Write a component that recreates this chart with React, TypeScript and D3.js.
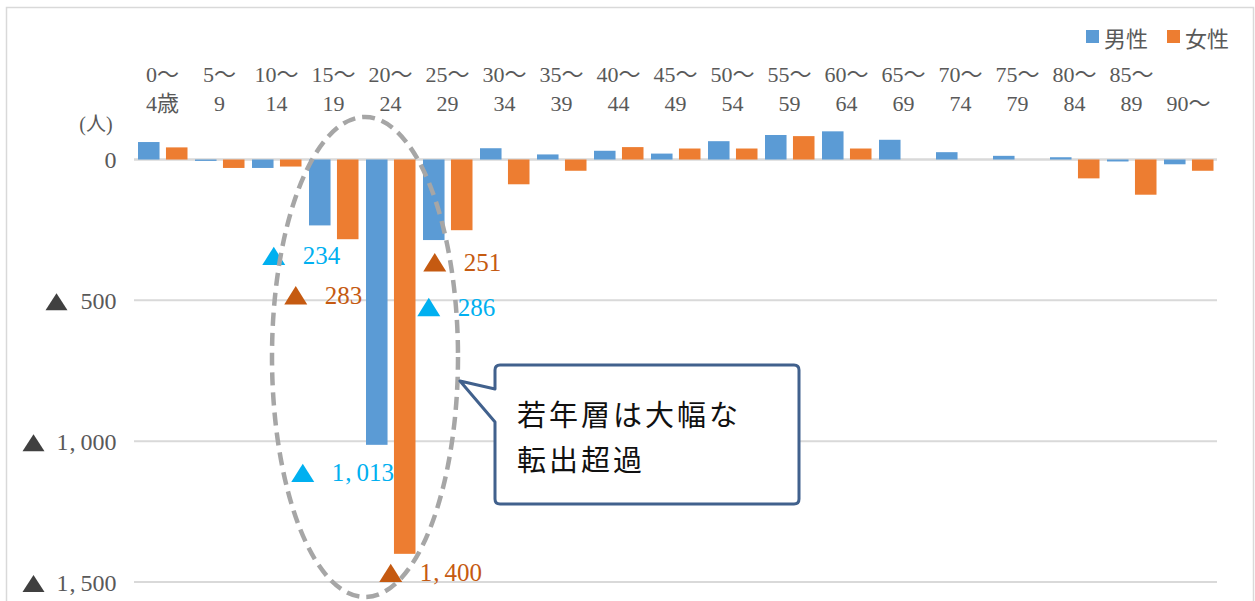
import React, { useEffect, useRef } from "react";
import * as d3 from "d3";

// ---- data ----
const catTop = ["0～", "5～", "10～", "15～", "20～", "25～", "30～", "35～", "40～", "45～", "50～", "55～", "60～", "65～", "70～", "75～", "80～", "85～", ""];
const catBottom = ["4歳", "9", "14", "19", "24", "29", "34", "39", "44", "49", "54", "59", "64", "69", "74", "79", "84", "89", "90～"];
const categories = catBottom.map((b, i) => catTop[i] + b);
const seriesNames = ["男性", "女性"];
const maleValues = [62, -5, -30, -234, -1013, -286, 40, 18, 31, 21, 65, 87, 100, 70, 26, 13, 8, -7, -17];
const femaleValues = [43, -30, -25, -283, -1400, -251, -88, -40, 44, 39, 39, 83, 39, 0, 0, 0, -67, -125, -40];
const yTicks = [0, -500, -1000, -1500];
const unitLabel = "(人)";
const highlighted = [
  { cat: "15～19", series: "男性" },
  { cat: "15～19", series: "女性" },
  { cat: "20～24", series: "男性" },
  { cat: "20～24", series: "女性" },
  { cat: "25～29", series: "男性" },
  { cat: "25～29", series: "女性" },
];
const calloutLines = ["若年層は大幅な", "転出超過"];

// ---- layout / style ----
const W = 1255;
const H = 601;
const plotLeft = 134;
const plotRight = 1217;
const colors: Record<string, string> = { 男性: "#5B9BD5", 女性: "#ED7D31" };
const labelColors: Record<string, string> = { 男性: "#00B0F0", 女性: "#C55A11" };
// offsets of each highlighted label relative to the bar's centre / end
const labelLayout = [
  { dx: -46, dy: 30.5 },
  { dx: -52, dy: 56 },
  { dx: -74, dy: 28 },
  { dx: -14, dy: 19 },
  { dx: -5, dy: 67 },
  { dx: -27, dy: 32 },
];
const SERIF = "'Liberation Serif', 'Noto Sans CJK JP', serif";
const SANS = "'Noto Sans CJK JP', 'Noto Sans', sans-serif";

// write a number string into a text element, widening the comma like a half-width Mincho comma
function writeNumber(t: d3.Selection<SVGTextElement, unknown, null, undefined>, s: string) {
  const parts = s.split(",");
  parts.forEach((p, i) => {
    if (i > 0) t.append("tspan").attr("dx", 1).attr("letter-spacing", 5).text(",");
    t.append("tspan").text(p);
  });
}

export default function App() {
  const ref = useRef<SVGSVGElement | null>(null);

  useEffect(() => {
    const svg = d3.select(ref.current);
    svg.selectAll("*").remove();

    const x = d3.scaleBand<string>().domain(categories).range([plotLeft, plotRight]).padding(0);
    const xs = d3
      .scaleBand<string>()
      .domain(seriesNames)
      .range([4, x.bandwidth() - 3.5])
      .paddingInner(0.23)
      .paddingOuter(0);
    const y = d3.scaleLinear().domain([0, -1500]).range([159.5, 582]);

    // outer border
    svg
      .append("rect")
      .attr("x", 6.5)
      .attr("y", 7.5)
      .attr("width", 1247)
      .attr("height", 700)
      .attr("fill", "#fff")
      .attr("stroke", "#D9D9D9")
      .attr("stroke-width", 1.5);

    // gridlines
    svg
      .append("g")
      .selectAll("line")
      .data(yTicks)
      .join("line")
      .attr("x1", plotLeft)
      .attr("x2", plotRight)
      .attr("y1", (d) => y(d))
      .attr("y2", (d) => y(d))
      .attr("stroke", "#D9D9D9")
      .attr("stroke-width", (d) => (d === 0 ? 2.5 : 2));

    // y-axis labels
    const yl = svg.append("g");
    yTicks.forEach((v) => {
      const gy = y(v);
      const t = yl
        .append("text")
        .attr("x", 116.5)
        .attr("y", gy + 8.5)
        .attr("text-anchor", "end")
        .attr("font-family", SERIF)
        .attr("font-size", 24)
        .attr("fill", "#595959");
      writeNumber(t as any, v === 0 ? "0" : d3.format(",")(-v));
      if (v !== 0) {
        const len = (t.node() as SVGTextElement).getComputedTextLength();
        const right = 116.5 - len - 13;
        const cy = gy + 1.5;
        yl.append("path")
          .attr("d", `M${right - 22},${cy + 8.5}L${right},${cy + 8.5}L${right - 11},${cy - 8.5}Z`)
          .attr("fill", "#404040");
      }
    });

    // unit label
    svg
      .append("text")
      .attr("x", 96)
      .attr("y", 124)
      .attr("text-anchor", "middle")
      .attr("dominant-baseline", "central")
      .attr("font-family", SERIF)
      .attr("font-size", 20)
      .attr("fill", "#595959")
      .text(unitLabel);

    // category labels
    const cl = svg.append("g").attr("font-family", SERIF).attr("font-size", 22).attr("fill", "#595959").attr("text-anchor", "middle");
    categories.forEach((c, i) => {
      const cx = (x(c) as number) + x.bandwidth() / 2;
      if (catTop[i]) cl.append("text").attr("x", cx).attr("y", 81.5).text(catTop[i]);
      cl.append("text").attr("x", cx).attr("y", 111).text(catBottom[i]);
    });

    // bars
    const rows = categories.map((c, i) => ({ cat: c, 男性: maleValues[i], 女性: femaleValues[i] }));
    const bars = svg.append("g");
    seriesNames.forEach((s) => {
      bars
        .append("g")
        .selectAll("rect")
        .data(rows.filter((r) => (r as any)[s] !== 0))
        .join("rect")
        .attr("x", (r) => (x(r.cat) as number) + (xs(s) as number))
        .attr("width", xs.bandwidth())
        .attr("y", (r) => Math.min(y((r as any)[s]), y(0)))
        .attr("height", (r) => Math.abs(y((r as any)[s]) - y(0)))
        .attr("fill", colors[s]);
    });

    // highlighted value labels
    const lg = svg.append("g");
    highlighted.forEach((h, k) => {
      const i = categories.indexOf(h.cat);
      const v = h.series === "男性" ? maleValues[i] : femaleValues[i];
      const bx = (x(h.cat) as number) + (xs(h.series) as number) + xs.bandwidth() / 2;
      const by = y(v);
      const tx = bx + labelLayout[k].dx;
      const ty = by + labelLayout[k].dy;
      lg.append("path")
        .attr("d", `M${tx - 11.5},${ty + 9.2}L${tx + 11.5},${ty + 9.2}L${tx},${ty - 9.2}Z`)
        .attr("fill", labelColors[h.series]);
      const t = lg
        .append("text")
        .attr("x", tx + 29)
        .attr("y", ty + 8.5)
        .attr("font-family", SERIF)
        .attr("font-size", 25)
        .attr("fill", labelColors[h.series]);
      writeNumber(t as any, d3.format(",")(Math.abs(v)));
    });

    // dashed ellipse around the young-age groups
    svg
      .append("ellipse")
      .attr("cx", (x("20～24") as number) + 3)
      .attr("cy", 357)
      .attr("rx", 93)
      .attr("ry", 240)
      .attr("fill", "none")
      .attr("stroke", "#A6A6A6")
      .attr("stroke-width", 4.5)
      .attr("stroke-dasharray", "13 7");

    // callout
    const bx0 = 495, bx1 = 799, by0 = 365, by1 = 504, r = 5;
    const tipX = 460, tipY = 381;
    const p = d3.path();
    p.moveTo(bx0 + r, by0);
    p.lineTo(bx1 - r, by0);
    p.quadraticCurveTo(bx1, by0, bx1, by0 + r);
    p.lineTo(bx1, by1 - r);
    p.quadraticCurveTo(bx1, by1, bx1 - r, by1);
    p.lineTo(bx0 + r, by1);
    p.quadraticCurveTo(bx0, by1, bx0, by1 - r);
    p.lineTo(bx0, 422);
    p.lineTo(tipX, tipY);
    p.lineTo(bx0, 389);
    p.lineTo(bx0, by0 + r);
    p.quadraticCurveTo(bx0, by0, bx0 + r, by0);
    p.closePath();
    svg
      .append("path")
      .attr("d", p.toString())
      .attr("fill", "#fff")
      .attr("stroke", "#41618D")
      .attr("stroke-width", 3)
      .attr("stroke-linejoin", "round");
    calloutLines.forEach((line, i) => {
      svg
        .append("text")
        .attr("x", 517)
        .attr("y", 413 + i * 45)
        .attr("dominant-baseline", "central")
        .attr("font-family", SANS)
        .attr("font-size", 29)
        .attr("letter-spacing", 3)
        .attr("fill", "#111")
        .text(line);
    });

    // legend
    const legX = [1086, 1167];
    seriesNames.forEach((s, i) => {
      svg.append("rect").attr("x", legX[i]).attr("y", 30).attr("width", 13).attr("height", 13).attr("fill", colors[s]);
      svg
        .append("text")
        .attr("x", legX[i] + 18)
        .attr("y", 36.5)
        .attr("dominant-baseline", "central")
        .attr("font-family", SANS)
        .attr("font-size", 22)
        .attr("fill", "#595959")
        .text(s);
    });
  }, []);

  return (
    <svg
      ref={ref}
      width={W}
      height={H}
      style={{ position: "absolute", left: 0, top: 0, display: "block", background: "#fff" }}
    />
  );
}
